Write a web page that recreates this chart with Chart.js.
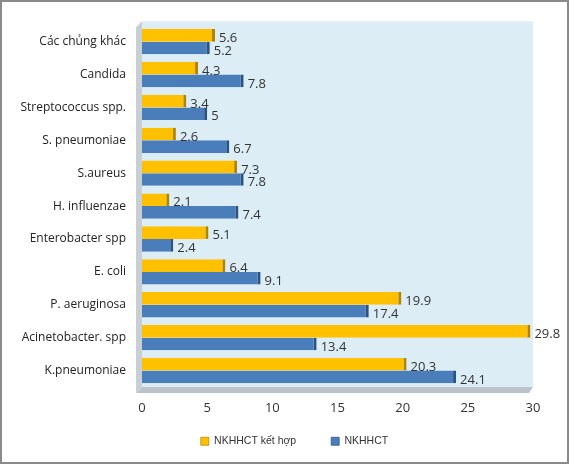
<!DOCTYPE html>
<html>
<head>
<meta charset="utf-8">
<script src="https://cdn.jsdelivr.net/npm/chart.js@4"></script>
<style>
  html, body { margin: 0; padding: 0; background: #fff; }
  #wrap { position: relative; width: 569px; height: 464px; box-sizing: border-box; border: 2px solid #8a8a8a; }
</style>
</head>
<body>
<div id="wrap"><canvas id="myChart"></canvas></div>
<script>
const categories = ['Các chủng khác', 'Candida', 'Streptococcus spp.', 'S. pneumoniae', 'S.aureus',
    'H. influenzae', 'Enterobacter spp', 'E. coli', 'P. aeruginosa', 'Acinetobacter. spp', 'K.pneumoniae'];
const ketHop = [5.6, 4.3, 3.4, 2.6, 7.3, 2.1, 5.1, 6.4, 19.9, 29.8, 20.3];
const nkhhct = [5.2, 7.8, 5, 6.7, 7.8, 7.4, 2.4, 9.1, 17.4, 13.4, 24.1];
const xTicks = [0, 5, 10, 15, 20, 25, 30];

// nền xanh nhạt + sàn xám cho vùng vẽ
const plotBg = {
    id: 'plotBg',
    beforeDraw(chart) {
        const { ctx, chartArea: a } = chart;
        ctx.save();
        ctx.fillStyle = '#dcedf5';
        ctx.fillRect(a.left, a.top - 4, a.right - a.left, a.bottom - a.top + 4);
        ctx.fillStyle = '#b9c3c9';
        ctx.beginPath();
        ctx.moveTo(a.left - 6, a.bottom + 6);
        ctx.lineTo(a.right - 4, a.bottom + 6);
        ctx.lineTo(a.right, a.bottom);
        ctx.lineTo(a.left, a.bottom);
        ctx.closePath();
        ctx.fill();
        ctx.fillStyle = '#c7cfd4';
        ctx.beginPath();
        ctx.moveTo(a.left - 6, a.top + 2);
        ctx.lineTo(a.left, a.top - 4);
        ctx.lineTo(a.left, a.bottom);
        ctx.lineTo(a.left - 6, a.bottom + 6);
        ctx.closePath();
        ctx.fill();
        ctx.restore();
    }
};

// kéo chú thích lên gần trục hoành và lệch sang phải một chút
const legendNudge = {
    id: 'legendNudge',
    afterLayout(chart) {
        chart.legend.top -= 16;
        chart.legend.left += 50;
    }
};

// số liệu ở cuối mỗi thanh
const valueLabels = {
    id: 'valueLabels',
    afterDatasetsDraw(chart) {
        const { ctx } = chart;
        ctx.save();
        ctx.font = '13px "Open Sans", sans-serif';
        ctx.fillStyle = '#333';
        ctx.textBaseline = 'middle';
        chart.data.datasets.forEach((ds, i) => {
            chart.getDatasetMeta(i).data.forEach((bar, j) => {
                ctx.fillText(String(ds.data[j]), bar.x + 4, bar.y + 3);
            });
        });
        ctx.restore();
    }
};

new Chart(document.getElementById('myChart'), {
    type: 'bar',
    data: {
        labels: categories,
        datasets: [{
            label: 'NKHHCT kết hợp',
            data: ketHop,
            backgroundColor: '#ffc000',
            borderColor: '#b08400',
            borderWidth: { top: 0, right: 3, bottom: 0, left: 0 },
            borderSkipped: false
        }, {
            label: 'NKHHCT',
            data: nkhhct,
            backgroundColor: '#4a7ebb',
            borderColor: '#2c5282',
            borderWidth: { top: 0, right: 3, bottom: 0, left: 0 },
            borderSkipped: false
        }]
    },
    options: {
        indexAxis: 'y',
        responsive: true,
        maintainAspectRatio: false,
        animation: false,
        devicePixelRatio: 1,
        layout: { padding: { left: 4, right: 34, top: 22, bottom: 4 } },
        datasets: { bar: { categoryPercentage: 0.77, barPercentage: 1.0 } },
        scales: {
            x: {
                min: 0,
                max: 30,
                afterBuildTicks(scale) { scale.ticks = xTicks.map(v => ({ value: v })); },
                afterFit(scale) { scale.height = 30; },
                grid: { display: false, drawTicks: false },
                border: { display: false },
                ticks: { color: '#333', font: { family: 'Open Sans', size: 13 }, padding: 13 }
            },
            y: {
                grid: { display: false, drawTicks: false },
                border: { display: false },
                afterFit(scale) { scale.width = 136; },
                ticks: { color: '#222', font: { family: 'Open Sans', size: 12 }, padding: 16 }
            }
        },
        plugins: {
            legend: {
                position: 'bottom',
                maxHeight: 41,
                labels: {
                    boxWidth: 8,
                    boxHeight: 8,
                    padding: 35,
                    color: '#333',
                    font: { family: 'Liberation Sans', size: 10.5 }
                }
            },
            tooltip: { enabled: false }
        }
    },
    plugins: [plotBg, legendNudge, valueLabels]
});
</script>
</body>
</html>
